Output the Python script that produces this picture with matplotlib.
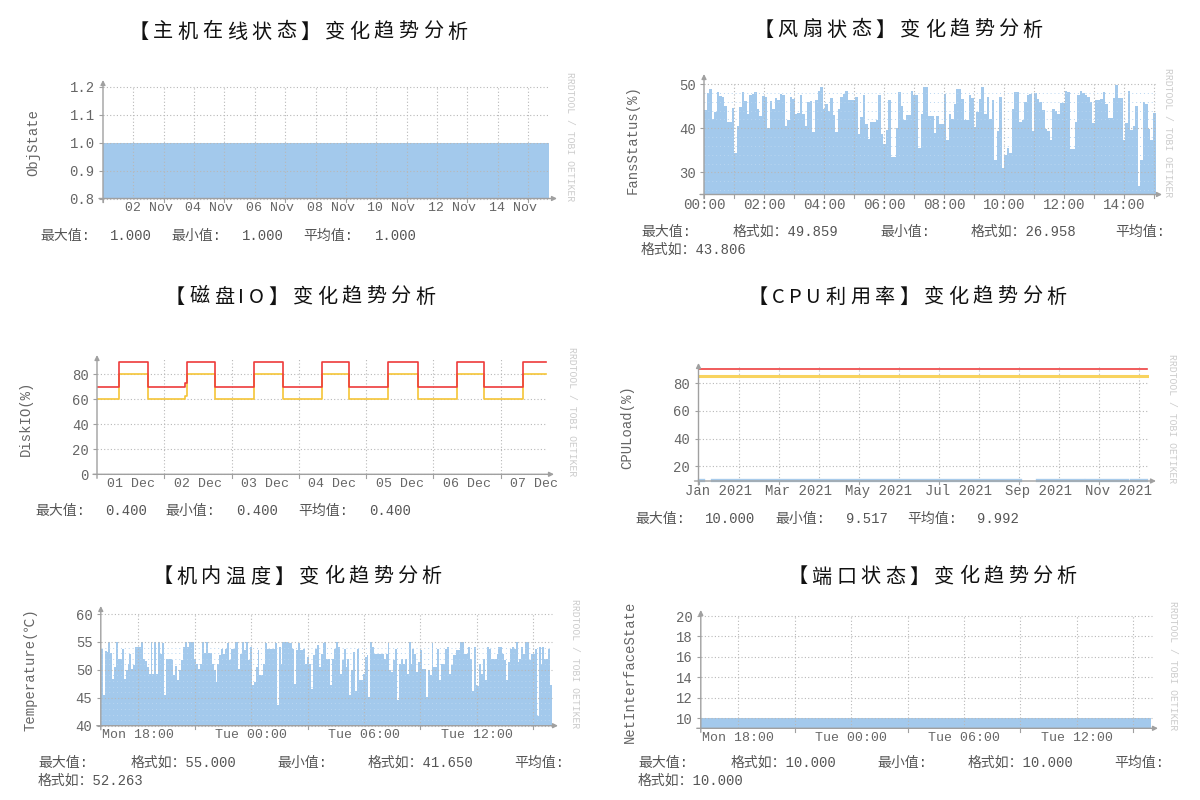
import numpy as np
import matplotlib
matplotlib.use('Agg')
import matplotlib.pyplot as plt
from matplotlib.patches import FancyArrowPatch

plt.rcParams['path.simplify'] = False

W, H = 1200, 800
MONO = ['Liberation Mono', 'DejaVu Sans Mono', 'Noto Sans CJK SC']
CJK = ['Noto Sans CJK SC', 'DejaVu Sans']
BLUE = '#A3C9EC'
GRID = '#b8b8b8'
AXC = '#a0a0a0'

# ---- data ----
titles = ['【主机在线状态】变化趋势分析', '【风扇状态】变化趋势分析', '【磁盘IO】变化趋势分析',
          '【CPU利用率】变化趋势分析', '【机内温度】变化趋势分析', '【端口状态】变化趋势分析']

# host online state (days since 31 Oct)
obj_days = [1.0, 15.69]
obj_state = [1.0, 1.0]

# fan status, one value per sample between 00:00 and 15:03
fan_status = [
    44.2, 47.9, 48.9, 42.1, 43.6, 48.3, 47.2, 47.0, 45.1, 41.5, 41.5, 44.5, 34.4, 40.4, 44.9, 48.1,
    46.1, 43.3, 47.5, 47.7, 48.3, 44.4, 42.7, 47.2, 47.0, 40.1, 46.1, 44.4, 46.8, 46.3, 47.7, 47.5,
    40.6, 41.9, 47.0, 46.6, 43.3, 43.4, 47.6, 43.3, 40.6, 45.9, 46.1, 39.1, 46.4, 48.5, 49.4, 44.4,
    45.5, 44.0, 46.9, 42.9, 39.1, 44.4, 47.0, 47.7, 48.5, 46.4, 46.4, 46.4, 47.0, 38.8, 42.5, 47.4,
    41.0, 37.5, 41.4, 41.4, 41.9, 47.4, 38.8, 36.5, 39.5, 46.3, 33.5, 33.5, 40.1, 48.1, 45.1, 41.8,
    42.9, 42.9, 48.5, 47.5, 47.5, 35.6, 43.1, 49.3, 49.4, 42.7, 42.7, 38.9, 42.7, 41.0, 41.0, 47.7,
    37.4, 43.3, 42.1, 45.5, 48.9, 48.9, 46.6, 41.8, 41.8, 47.6, 46.9, 40.3, 43.6, 46.6, 49.3, 43.3,
    47.0, 42.1, 46.3, 32.9, 39.4, 47.0, 30.9, 33.9, 35.6, 34.4, 44.4, 48.1, 48.1, 41.5, 41.9, 45.9,
    47.4, 47.7, 39.4, 47.9, 46.6, 45.9, 44.2, 39.9, 39.4, 37.3, 44.4, 44.0, 43.3, 45.7, 45.7, 48.5,
    48.1, 35.4, 35.4, 41.5, 47.4, 48.4, 48.0, 47.5, 47.0, 45.9, 41.2, 46.4, 46.3, 46.6, 48.1, 45.5,
    42.4, 42.4, 46.9, 49.86, 46.9, 46.9, 37.3, 41.2, 48.4, 39.5, 40.4, 45.1, 26.96, 32.8, 45.9, 45.5,
    39.9, 37.3, 43.4]
fan_span = (0.0, 15.05)

# disk IO thresholds (days since 01 Dec)
disk_days = [0.0, 0.33, 0.76, 1.31, 1.34, 1.75, 2.33, 2.77, 3.34, 3.74, 4.33, 4.77, 5.35, 5.75, 6.34, 6.67]
disk_red = [70, 90, 70, 73, 90, 70, 90, 70, 90, 70, 90, 70, 90, 70, 90, 90]
disk_yellow = [60, 80, 60, 63, 80, 60, 80, 60, 80, 60, 80, 60, 80, 60, 80, 80]
disk_io = [0.4, 0.4]

# CPU load (months since 01 Jan 2021)
cpu_month = [0.0, 0.12, 0.12, 0.33, 8.02, 8.02, 8.45, 9.60, 9.60, 9.67, 10.71, 10.71, 10.80, 11.19]
cpu_load = [10, 10, np.nan, 10, 10, np.nan, 10, 10, np.nan, 10, 10, np.nan, 10, 10]
cpu_red = [90, 90]
cpu_yellow = [85, 85]
cpu_span = [0.0, 11.21]

# temperature (hours since Mon 00:00, from Mon 16:00 to Tue 16:00)
temp_vals = [
    53.8, 45.5, 53.4, 53.2, 55.0, 53.0, 48.3, 50.5, 55.0, 52.0, 52.0, 53.7, 48.3, 50.0, 51.1, 52.9,
    50.2, 50.8, 54.1, 54.1, 54.1, 55.0, 52.0, 51.6, 50.5, 49.3, 55.0, 49.3, 55.0, 49.3, 55.0, 52.9,
    54.8, 45.5, 52.0, 52.0, 52.0, 51.7, 49.0, 50.7, 48.1, 50.0, 51.7, 54.1, 55.0, 54.1, 55.0, 55.0,
    55.0, 52.0, 51.1, 50.2, 51.1, 55.0, 53.0, 55.0, 53.0, 53.0, 51.1, 50.0, 47.8, 51.1, 52.6, 53.8,
    52.9, 53.7, 54.8, 51.7, 53.8, 53.8, 55.0, 55.0, 50.2, 52.9, 55.0, 53.5, 55.0, 51.7, 54.1, 47.2,
    47.8, 50.5, 53.5, 49.0, 49.0, 51.1, 54.8, 53.8, 53.8, 53.7, 53.8, 54.8, 43.7, 54.1, 51.1, 55.0,
    55.0, 55.0, 54.8, 54.8, 53.8, 47.5, 53.5, 54.8, 53.5, 53.5, 53.8, 51.1, 52.3, 51.1, 46.5, 52.6,
    53.8, 54.4, 50.5, 52.9, 54.8, 55.0, 52.0, 52.0, 47.2, 52.0, 53.8, 55.0, 54.1, 49.3, 51.7, 53.8,
    50.5, 52.0, 45.5, 50.0, 53.2, 46.3, 53.8, 48.1, 48.1, 49.3, 52.3, 52.6, 45.1, 55.0, 54.1, 52.9,
    52.9, 52.9, 52.9, 52.9, 52.0, 52.9, 54.8, 50.0, 49.6, 51.7, 53.8, 44.6, 51.1, 52.0, 51.1, 52.0,
    49.3, 55.0, 51.1, 53.8, 52.9, 49.6, 51.4, 53.5, 50.2, 50.2, 45.1, 50.0, 49.0, 54.8, 50.5, 50.5,
    53.8, 48.1, 51.1, 51.1, 53.8, 54.1, 49.3, 50.8, 52.6, 52.6, 53.5, 53.5, 55.0, 55.0, 52.9, 52.9,
    54.1, 52.0, 46.3, 54.1, 47.2, 47.1, 51.1, 49.3, 52.0, 48.1, 54.1, 53.8, 52.0, 52.0, 52.0, 52.9,
    54.1, 54.1, 52.9, 51.7, 48.1, 51.4, 53.8, 54.1, 53.8, 55.0, 51.4, 52.0, 54.1, 52.9, 55.0, 55.0,
    51.7, 52.9, 52.9, 53.8, 41.65, 54.1, 51.1, 54.1, 52.0, 52.0, 53.8, 47.2]
temp_span = (16.0, 40.0)

# port state
port_hours = [16.0, 39.95]
port_state = [10, 10]

stats = [
    [(40, 236, '最大值:'), (110, 236, '1.000'), (171, 236, '最小值:'), (242, 236, '1.000'),
     (303, 236, '平均值:'), (375, 236, '1.000')],
    [(641, 232, '最大值:'), (733, 232, '格式如：49.859'), (880, 232, '最小值:'), (971, 232, '格式如：26.958'),
     (1115, 232, '平均值:'), (641, 250, '格式如：43.806')],
    [(35, 511, '最大值:'), (105, 511, '0.400'), (165, 511, '最小值:'), (236, 511, '0.400'),
     (298, 511, '平均值:'), (369, 511, '0.400')],
    [(635, 519, '最大值:'), (705, 519, '10.000'), (775, 519, '最小值:'), (846, 519, '9.517'),
     (907, 519, '平均值:'), (977, 519, '9.992')],
    [(38, 763, '最大值:'), (131, 763, '格式如：55.000'), (277, 763, '最小值:'), (368, 763, '格式如：41.650'),
     (514, 763, '平均值:'), (38, 781, '格式如：52.263')],
    [(638, 763, '最大值:'), (731, 763, '格式如：10.000'), (877, 763, '最小值:'), (968, 763, '格式如：10.000'),
     (1114, 763, '平均值:'), (638, 781, '格式如：10.000')],
]


fig = plt.figure(figsize=(12, 8), dpi=100)
fig.patch.set_facecolor('white')


def ptext(x, y, s, **kw):
    return fig.text(x / W, 1 - y / H, s, **kw)


def spaced_title(xc, y, s, size=14.5, gap=4.4):
    r = fig.canvas.get_renderer()
    ws = []
    for ch in s:
        t = fig.text(0, 0, ch, fontsize=size, family=CJK)
        ws.append(t.get_window_extent(r).width)
        t.remove()
    x = xc - (sum(ws) + gap * (len(s) - 1)) / 2
    for ch, w in zip(s, ws):
        ptext(x, y, ch, fontsize=size, family=CJK, color='#111111', va='center', ha='left')
        x += w + gap


def panel(x0, x1, ytop, ybot, xlim, ylim, yticks, ylabels, xlab_pos, xlab_text,
          grid_x, tick_x, ytip, xtip, minor_y=(), xsize=9.5):
    ax = fig.add_axes([x0 / W, 1 - ybot / H, (x1 - x0) / W, (ybot - ytop) / H])
    ax.set_xlim(xlim)
    ax.set_ylim(ylim)
    ax.patch.set_alpha(0)
    for s in ax.spines.values():
        s.set_visible(False)
    ax.set_yticks(yticks)
    ax.set_yticklabels(ylabels)
    ax.set_xticks(xlab_pos)
    ax.set_xticklabels(xlab_text)
    ax.tick_params(axis='x', length=0, pad=2.5, labelsize=xsize, labelcolor='#666666')
    ax.tick_params(axis='y', length=3, width=0.8, color=AXC, pad=3, labelsize=10, labelcolor='#666666')
    for lab in ax.get_xticklabels() + ax.get_yticklabels():
        lab.set_family(MONO)
    gk = dict(color=GRID, lw=0.8, ls=(0, (1, 2)), zorder=4, clip_on=False)
    for y in yticks:
        ax.axhline(y, **gk)
    # faint minor lines, only noticeable over the filled area
    for y in minor_y:
        ax.axhline(y, color='#b9d6f1', lw=0.7, ls=(0, (1, 3)), zorder=3)
    for x in grid_x:
        ax.axvline(x, **gk)
    for x in tick_x:
        ax.plot([x, x], [0, -0.03], transform=ax.get_xaxis_transform(), clip_on=False,
                color=AXC, lw=0.8, zorder=5)
    kw = dict(transform=fig.transFigure, arrowstyle='-|>', mutation_scale=7, color=AXC,
              lw=1, shrinkA=0, shrinkB=0, zorder=6)
    fig.add_artist(FancyArrowPatch((x0 / W, 1 - (ybot + 4) / H), (x0 / W, 1 - ytip / H), **kw))
    fig.add_artist(FancyArrowPatch(((x0 - 4) / W, 1 - ybot / H), (xtip / W, 1 - ybot / H), **kw))
    return ax


# 1. host online state
ax = panel(103, 549, 87, 198.5, (1.0, 15.69), (0.8, 1.2), [0.8, 0.9, 1.0, 1.1, 1.2],
           ['0.8', '0.9', '1.0', '1.1', '1.2'],
           [2.5, 4.5, 6.5, 8.5, 10.5, 12.5, 14.5],
           ['02 Nov', '04 Nov', '06 Nov', '08 Nov', '10 Nov', '12 Nov', '14 Nov'],
           range(2, 16), range(1, 16, 2), 80, 557)
ax.fill_between(obj_days, 0.8, obj_state, color=BLUE, lw=0, zorder=2)

# 2. fan status
ax = panel(704, 1155.5, 84, 194.5, (0.0, 15.05), (25, 50), [30, 40, 50], ['30', '40', '50'],
           range(0, 15, 2), ['%02d:00' % h for h in range(0, 15, 2)],
           range(1, 16), range(0, 16), 74, 1162,
           minor_y=[26, 28, 32, 34, 36, 38, 42, 44, 46, 48], xsize=10.3)
edges = np.linspace(fan_span[0], fan_span[1], len(fan_status) + 1)
ax.fill_between(edges, 25, list(fan_status) + [fan_status[-1]], step='post', color=BLUE, lw=0, zorder=2)

# 3. disk IO
ax = panel(97, 547, 359.3, 474.3, (0.0, 6.69), (0, 92), [0, 20, 40, 60, 80],
           ['0', '20', '40', '60', '80'],
           [0.5 + i for i in range(7)], ['%02d Dec' % (i + 1) for i in range(7)],
           range(1, 7), range(1, 7), 355, 554)
ax.fill_between([disk_days[0], disk_days[-1]], 0, disk_io, color=BLUE, lw=0, zorder=2)
ax.step(disk_days, disk_yellow, where='post', color='#F5C537', lw=1.2, zorder=5)
ax.step(disk_days, disk_red, where='post', color='#EE3B3B', lw=1.2, zorder=5)

# 4. CPU load
ax = panel(698.5, 1148.5, 366.6, 481, (0.0, 11.24), (9.5, 92), [20, 40, 60, 80],
           ['20', '40', '60', '80'],
           [0.5, 2.5, 4.5, 6.5, 8.5, 10.5],
           ['Jan 2021', 'Mar 2021', 'May 2021', 'Jul 2021', 'Sep 2021', 'Nov 2021'],
           range(1, 12), range(0, 12, 2), 363, 1156, xsize=10)
ax.plot(cpu_span, cpu_yellow, color='#F8D35E', lw=2.2, zorder=5)
ax.plot(cpu_span, cpu_red, color='#EE4040', lw=1.2, zorder=5)
ax.plot(cpu_month, cpu_load, color='#A8CBEB', lw=2.4, zorder=5, clip_on=False)

# 5. temperature
ax = panel(100.8, 552, 614, 725.7, temp_span, (40, 60), [40, 45, 50, 55, 60],
           ['40', '45', '50', '55', '60'],
           [18, 24, 30, 36], ['Mon 18:00', 'Tue 00:00', 'Tue 06:00', 'Tue 12:00'],
           range(18, 40, 3), range(21, 40, 6), 606, 558,
           minor_y=[41, 42, 43, 44, 46, 47, 48, 49, 51, 52, 53, 54])
edges = np.linspace(temp_span[0], temp_span[1], len(temp_vals) + 1)
ax.fill_between(edges, 40, list(temp_vals) + [temp_vals[-1]], step='post', color=BLUE, lw=0, zorder=2)

# 6. port state
ax = panel(700.8, 1152, 616, 728.3, (16.0, 40.0), (9.0, 20), [10, 12, 14, 16, 18, 20],
           ['10', '12', '14', '16', '18', '20'],
           [18, 24, 30, 36], ['Mon 18:00', 'Tue 00:00', 'Tue 06:00', 'Tue 12:00'],
           range(18, 40, 3), range(21, 40, 6), 610, 1158)
ax.fill_between(port_hours, 9.0, port_state, color=BLUE, lw=0, zorder=2)

# titles
for (xc, y), t in zip([(298, 32), (898, 30), (300, 297), (907, 297), (297, 577), (932, 577)], titles):
    spaced_title(xc, y, t)

# y labels
for x, y, s in [(33, 142, 'ObjState'), (633, 140, 'FansStatus(%)'), (26, 418, 'DiskIO(%)'),
                (627, 427, 'CPULoad(%)'), (30, 670, 'Temperature(℃)'), (630, 672, 'NetInterfaceState')]:
    ptext(x, y, s, rotation=90, family=MONO, fontsize=10, color='#666666', ha='center', va='center')

# watermark
for x, y in [(570, 137), (1168, 133), (572, 412), (1172, 419), (575, 664), (1173, 666)]:
    ptext(x, y, 'RRDTOOL / TOBI OETIKER', rotation=270, family=MONO, fontsize=7,
          color='#cccccc', ha='center', va='center')

# summary lines
for rows in stats:
    for x, y, s in rows:
        ptext(x, y, s, family=MONO, fontsize=10, color='#555555', ha='left', va='center')

fig.savefig('out.png', dpi=100, facecolor='white')
